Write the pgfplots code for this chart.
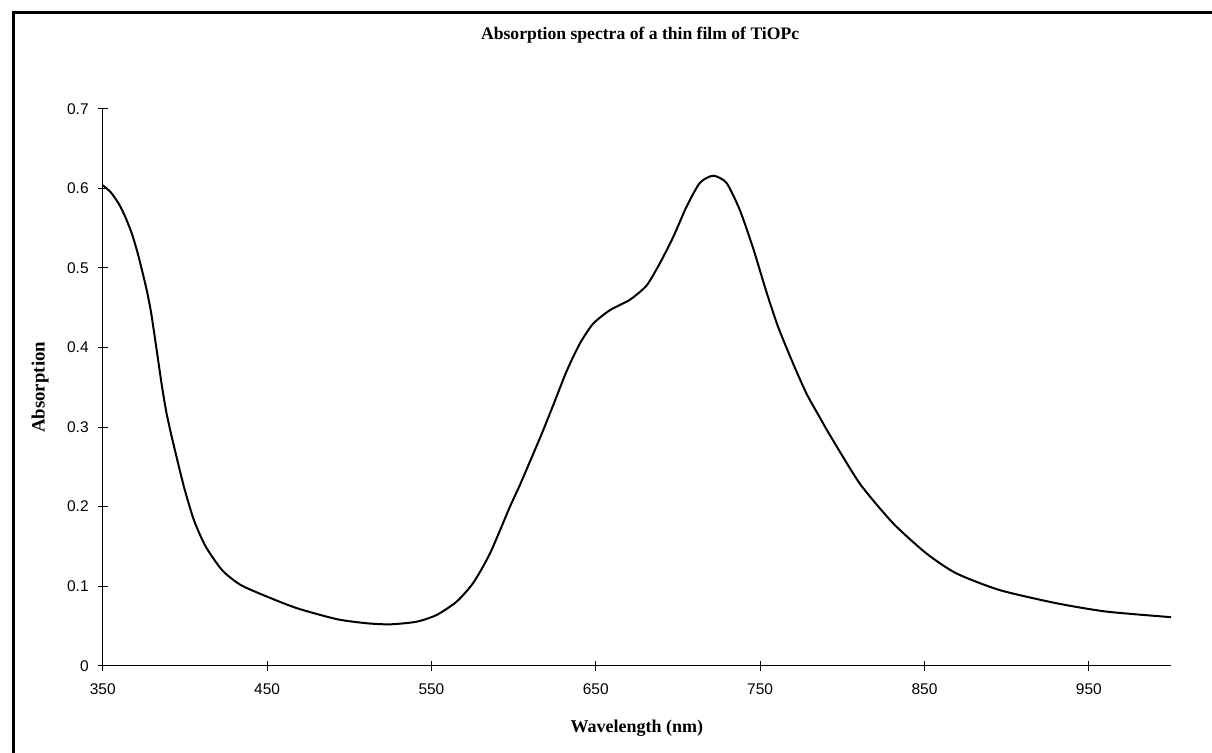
\documentclass[border=0pt]{standalone}
\usepackage{pgfplots}
\pgfplotsset{compat=1.18}
\usepackage{fontspec}
\setmainfont{Liberation Serif}
\setsansfont{Liberation Sans}
\begin{document}
\begin{tikzpicture}
\begin{axis}[
  scale only axis,
  width=534.2pt, height=278.4pt,
  xmin=350, xmax=1000, ymin=0, ymax=0.7,
  axis x line=bottom, axis y line=left,
  axis line style={-, line width=0.5pt},
  xtick={350,450,550,650,750,850,950},
  ytick={0,0.1,0.2,0.3,0.4,0.5,0.6,0.7},
  yticklabels={0,0.1,0.2,0.3,0.4,0.5,0.6,0.7},
  xticklabels={350,450,550,650,750,850,950},
  tick align=center,
  major tick length=5pt,
  tick style={line width=0.5pt, black},
  /pgf/number format/assume math mode=true,
  ticklabel style={font=\fontsize{7.75}{9}\selectfont\sffamily},
  xticklabel style={yshift=-3pt},
  yticklabel style={xshift=-1pt},
  xlabel={Wavelength (nm)},
  ylabel={Absorption},
  xlabel style={at={(axis description cs:0.5,-0.1203)}, anchor=base, font=\fontsize{9}{10}\selectfont\bfseries},
  ylabel style={at={(axis description cs:-0.0587,0.5)}, anchor=center, font=\fontsize{9.4}{10}\selectfont\bfseries},
  clip=false,
]
\addplot[black, line width=1pt, smooth, tension=0.4] coordinates {
(350,0.604) (355,0.595) (360,0.580) (364,0.563) (367.6,0.544) (370.7,0.523) (373.7,0.499)
(376.8,0.472) (379.2,0.447) (381.2,0.420) (383.6,0.386) (386,0.352) (388.6,0.320)
(391.3,0.294) (394.4,0.267) (399.4,0.225) (405.5,0.183) (412.6,0.150) (422.7,0.120)
(433.9,0.1015) (450,0.0868) (468.3,0.0722) (492.6,0.0584) (510.9,0.0533) (525,0.052)
(541,0.0553) (553.2,0.0638) (565.3,0.0805) (575.4,0.104) (585.6,0.141) (597.8,0.200)
(604,0.228) (610,0.257) (617,0.291) (624,0.327) (632.2,0.370) (640.3,0.405)
(648.4,0.430) (658.6,0.447) (670.7,0.460) (680.9,0.478) (689,0.506) (697.1,0.539)
(705.2,0.577) (713.3,0.607) (721.4,0.616) (729.5,0.607) (737.6,0.573) (745.7,0.525)
(753.8,0.470) (760.9,0.426) (770,0.380) (778.2,0.342) (786.3,0.312) (792.4,0.290)
(810.6,0.229) (830.9,0.179) (851.2,0.141) (869.4,0.116) (895.8,0.095) (930.3,0.0785)
(960.7,0.068) (1000,0.061)
};
\coordinate (O) at (rel axis cs:0,0);
\coordinate (T) at (rel axis cs:0.503,0);
\end{axis}
\node[anchor=base, font=\fontsize{8.8}{10}\selectfont\bfseries] at ([yshift=313pt]T) {Absorption spectra of a thin film of TiOPc};
\begin{pgfinterruptboundingbox}
\draw[line width=1.5pt] ([xshift=-44.6pt,yshift=-50pt]O) -- ([xshift=-44.6pt,yshift=326.35pt]O) -- ([xshift=560pt,yshift=326.35pt]O);
\end{pgfinterruptboundingbox}
\pgfresetboundingbox
\useasboundingbox ([xshift=-51.35pt,yshift=-43.65pt]O) rectangle ([xshift=554.65pt,yshift=332.85pt]O);
\end{tikzpicture}
\end{document}
